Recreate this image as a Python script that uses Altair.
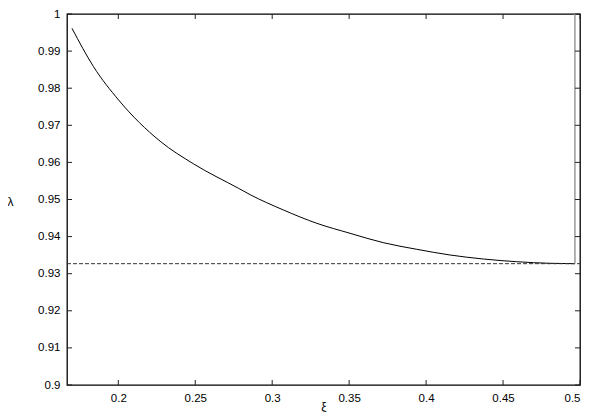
import altair as alt
import pandas as pd

# curve lambda(xi)
xi = [0.1699, 0.1839, 0.2002, 0.2272, 0.2489, 0.2781, 0.2857, 0.3073,
      0.3290, 0.3506, 0.3722, 0.3939, 0.4156, 0.4372, 0.4589, 0.4805, 0.4967]
lam = [0.99615, 0.98580, 0.97682, 0.96570, 0.95960, 0.95302, 0.95130, 0.94717,
       0.94358, 0.94089, 0.93836, 0.93658, 0.93504, 0.93396, 0.93323, 0.93280, 0.93270]

# vertical branch at the end of the curve
branch_x = [0.4967]
branch_y0 = [0.9327]
branch_y1 = [1.0]

# dashed asymptote
asym_x0 = [1 / 6]
asym_x1 = [0.5]
asym_y = [0.9327]

x_ticks = [0.2, 0.25, 0.3, 0.35, 0.4, 0.45, 0.5]
y_ticks = [0.9, 0.91, 0.92, 0.93, 0.94, 0.95, 0.96, 0.97, 0.98, 0.99, 1.0]

W, H = 513, 371
FONT = "Liberation Sans"

xs = alt.Scale(domain=[1 / 6, 0.5], nice=False, zero=False)
ys = alt.Scale(domain=[0.9, 1.0], nice=False, zero=False)

xaxis = alt.Axis(values=x_ticks, format="~g", ticks=False, domain=False, grid=False,
                 labelOverlap=False, labelPadding=7, labelFont=FONT, labelFontSize=11.5,
                 labelColor="black",
                 title="ξ", titleFont=FONT, titleFontSize=12, titleFontWeight="normal",
                 titleColor="black", titleY=21, titleBaseline="middle")
yaxis = alt.Axis(values=y_ticks, format="~g", ticks=False, domain=False, grid=False,
                 labelOverlap=False, labelPadding=7, labelFont=FONT, labelFontSize=11.5,
                 labelColor="black",
                 title="λ", titleFont=FONT, titleFontSize=12, titleFontWeight="normal",
                 titleColor="black", titleAngle=0, titleX=-57, titleY=187,
                 titleAlign="center", titleBaseline="middle")

curve_df = pd.DataFrame({"xi": xi, "lam": lam})
branch_df = pd.DataFrame({"x": branch_x, "y0": branch_y0, "y1": branch_y1})
asym_df = pd.DataFrame({"x0": asym_x0, "x1": asym_x1, "y": asym_y})
xt_df = pd.DataFrame({"v": x_ticks})
yt_df = pd.DataFrame({"v": y_ticks})

curve = alt.Chart(curve_df).mark_line(color="black", strokeWidth=1, interpolate="monotone").encode(
    x=alt.X("xi:Q", scale=xs, axis=xaxis),
    y=alt.Y("lam:Q", scale=ys, axis=yaxis),
)

branch = alt.Chart(branch_df).mark_rule(color="#999999", strokeWidth=1.5).encode(
    x=alt.X("x:Q", scale=xs, axis=xaxis), y=alt.Y("y0:Q", scale=ys, axis=yaxis), y2="y1:Q"
)

asym = alt.Chart(asym_df).mark_rule(color="#333333", strokeWidth=1, strokeDash=[4, 2]).encode(
    x=alt.X("x0:Q", scale=xs, axis=xaxis), x2="x1:Q", y=alt.Y("y:Q", scale=ys, axis=yaxis)
)

tick_col = "#222222"
left_t = alt.Chart(yt_df).mark_rule(color=tick_col).encode(
    y=alt.Y("v:Q", scale=ys, axis=yaxis), x=alt.value(0), x2=alt.value(5))
right_t = alt.Chart(yt_df).mark_rule(color=tick_col).encode(
    y=alt.Y("v:Q", scale=ys, axis=yaxis), x=alt.value(W), x2=alt.value(W - 5))
bottom_t = alt.Chart(xt_df).mark_rule(color=tick_col).encode(
    x=alt.X("v:Q", scale=xs, axis=xaxis), y=alt.value(H), y2=alt.value(H - 5))
top_t = alt.Chart(xt_df).mark_rule(color=tick_col).encode(
    x=alt.X("v:Q", scale=xs, axis=xaxis), y=alt.value(0), y2=alt.value(5))

chart = alt.layer(curve, asym, branch, left_t, right_t, bottom_t, top_t).properties(
    width=W, height=H,
    autosize=alt.AutoSizeParams(type="none"),
    padding={"left": 59, "top": 6, "right": 12, "bottom": 27},
).configure(background="white").configure_view(stroke="black", strokeWidth=1.3)

chart.save("out.html", embed_options={"renderer": "svg", "actions": False})
